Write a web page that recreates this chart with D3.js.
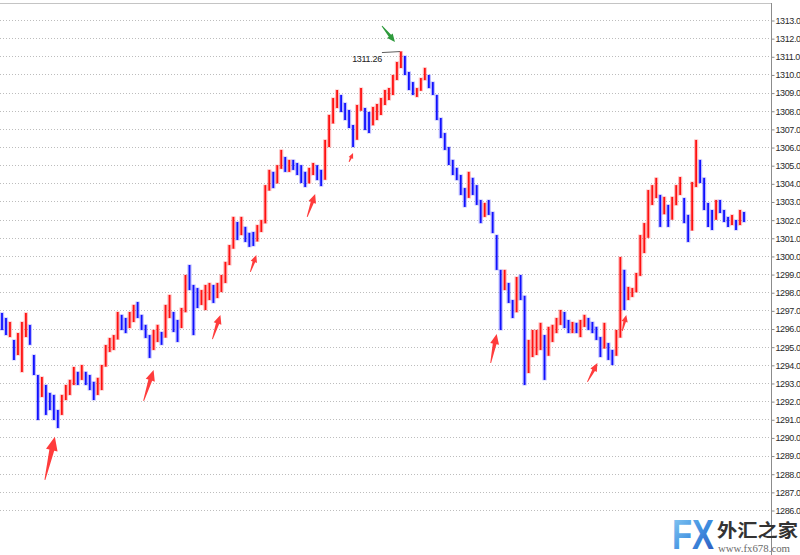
<!DOCTYPE html>
<html>
<head>
<meta charset="utf-8">
<script src="https://cdn.jsdelivr.net/npm/d3@7/dist/d3.min.js"></script>
<style>
  html, body { margin: 0; padding: 0; background: #ffffff; }
  svg { display: block; }
</style>
</head>
<body>
<svg id="chart" width="800" height="555"></svg>
<script>
// ---- data ----
const tickValues = d3.range(1286, 1314, 1);

const highs = [
 1296.86,1296.58,1296.36,1295.37,1295.75,1296.36,1296.86,1296.2,1294.54,1293.44,
 1293.33,1292.89,1292.45,1292.34,1291.51,1292.34,1292.89,1293.17,1293.88,1293.61,
 1293.99,1293.61,1293.44,1293.06,1293.28,1293.99,1295.09,1295.48,1295.64,1296.91,
 1296.75,1296.58,1296.91,1297.3,1297.46,1296.75,1296.2,1295.64,1295.92,1296.2,
 1295.81,1297.3,1297.85,1296.91,1296.47,1297.13,1298.95,1299.5,1298.4,1298.23,
 1298.12,1298.4,1298.51,1298.4,1298.51,1298.95,1299.67,1300.6,1302.15,1301.87,
 1302.15,1301.6,1301.27,1301.32,1301.7,1301.98,1303.9,1304.74,1304.63,1305.0,
 1305.84,1305.45,1305.29,1305.29,1305.12,1305.0,1304.63,1304.85,1305.12,1305.0,
 1304.74,1306.39,1307.77,1308.7,1309.14,1308.87,1308.43,1308.04,1307.21,1308.32,
 1309.25,1308.15,1307.93,1308.21,1308.37,1308.7,1309.14,1309.25,1309.97,1310.69,
 1311.26,1311.02,1310.14,1309.58,1309.25,1309.8,1310.36,1309.97,1309.58,1308.87,
 1307.6,1306.77,1306.0,1305.29,1304.85,1304.46,1303.74,1304.63,1304.3,1303.9,
 1303.08,1302.92,1303.08,1302.42,1301.15,1299.23,1299.23,1298.51,1297.57,1298.84,
 1298.95,1297.8,1295.37,1295.92,1295.92,1296.31,1295.64,1296.09,1296.2,1296.58,
 1297.02,1296.91,1296.47,1296.36,1296.31,1296.47,1296.75,1296.58,1296.36,1296.09,
 1295.53,1296.31,1295.2,1294.82,1295.92,1299.94,1299.23,1298.29,1298.23,1299.06,
 1301.15,1301.81,1303.63,1303.9,1304.3,1303.36,1303.25,1302.81,1303.25,1303.9,
 1304.35,1303.19,1302.26,1304.07,1306.39,1305.29,1304.3,1302.92,1302.53,1303.08,
 1303.08,1302.53,1302.15,1302.26,1301.98,1302.53,1302.42
];

const lows = [
 1295.92,1295.64,1295.53,1294.27,1294.54,1293.6,1295.53,1295.1,1293.44,1290.96,
 1292.23,1291.24,1291.51,1290.96,1290.52,1291.24,1292.06,1292.34,1292.89,1292.89,
 1293.17,1292.89,1292.61,1292.06,1292.34,1292.61,1293.9,1294.71,1294.82,1295.4,
 1295.92,1295.75,1296.03,1296.36,1296.58,1295.92,1295.48,1294.38,1294.82,1295.26,
 1295.1,1295.5,1296.58,1295.81,1295.26,1296.03,1296.9,1298.12,1295.64,1297.13,
 1297.3,1297.02,1297.57,1297.41,1297.68,1298.01,1298.51,1299.5,1300.4,1300.88,
 1301.15,1300.77,1300.5,1300.55,1300.8,1301.32,1301.8,1303.6,1303.74,1304.0,
 1304.8,1304.63,1304.63,1304.74,1304.46,1304.02,1303.8,1304.0,1304.46,1304.18,
 1303.85,1304.2,1306.0,1307.3,1308.15,1307.93,1307.49,1307.05,1306.0,1306.4,
 1308.0,1306.94,1306.77,1307.2,1307.49,1307.77,1308.32,1308.59,1308.87,1309.69,
 1310.36,1309.97,1309.14,1308.87,1308.76,1309.1,1309.69,1309.25,1308.87,1307.49,
 1306.5,1305.84,1305.01,1304.46,1304.18,1303.36,1302.7,1303.2,1303.36,1302.81,
 1301.81,1302.15,1302.26,1301.26,1299.23,1295.92,1298.12,1297.41,1296.58,1296.9,
 1297.57,1292.89,1293.55,1294.43,1294.54,1294.82,1293.17,1294.5,1295.26,1295.75,
 1296.2,1296.03,1295.75,1295.75,1295.75,1295.53,1296.09,1295.92,1295.75,1295.37,
 1294.43,1294.9,1294.27,1293.99,1294.5,1295.5,1297.02,1297.57,1297.74,1298.0,
 1298.9,1300.16,1301.0,1302.81,1303.19,1301.6,1302.3,1301.6,1302.0,1302.8,
 1303.36,1301.81,1300.77,1301.4,1303.8,1304.02,1302.53,1301.6,1301.43,1302.0,
 1302.37,1301.87,1301.6,1301.7,1301.43,1301.7,1301.87
];

const closes = [
 1296.2,1295.9,1296.0,1294.8,1295.3,1296.0,1296.5,1295.3,1293.8,1292.8,
 1292.8,1292.3,1292.0,1291.4,1290.9,1292.0,1292.6,1293.0,1293.4,1293.2,
 1293.5,1293.3,1292.9,1292.5,1293.0,1293.9,1294.8,1295.2,1295.4,1296.6,
 1296.3,1296.0,1296.6,1297.0,1296.8,1296.1,1295.6,1294.8,1295.5,1295.8,
 1295.5,1297.0,1297.2,1296.2,1296.0,1296.9,1298.8,1298.5,1297.8,1297.6,
 1297.6,1297.9,1298.0,1297.7,1298.3,1298.6,1299.5,1300.4,1301.6,1301.3,
 1301.6,1301.0,1300.9,1300.8,1301.5,1301.8,1303.6,1304.3,1304.0,1304.8,
 1305.3,1304.9,1305.0,1304.9,1304.7,1304.3,1304.0,1304.6,1304.8,1304.5,
 1304.2,1306.0,1307.3,1308.4,1308.6,1308.2,1307.8,1307.3,1306.4,1308.0,
 1308.5,1307.5,1307.2,1307.9,1308.0,1308.5,1308.8,1309.0,1309.7,1310.5,
 1311.0,1310.2,1309.4,1309.0,1309.1,1309.7,1309.9,1309.5,1309.0,1307.7,
 1306.8,1306.1,1305.3,1304.8,1304.4,1303.7,1303.2,1304.2,1303.7,1303.1,
 1302.3,1302.6,1302.5,1301.6,1299.6,1298.1,1298.6,1297.7,1296.9,1298.5,
 1297.8,1294.0,1294.5,1295.0,1295.4,1295.5,1294.5,1295.6,1295.9,1296.2,
 1296.6,1296.3,1296.0,1296.1,1295.9,1296.2,1296.5,1296.3,1296.0,1295.6,
 1294.9,1295.6,1294.6,1294.5,1295.7,1299.2,1297.8,1297.9,1298.0,1298.9,
 1300.8,1301.0,1302.9,1303.5,1303.5,1302.3,1303.0,1302.0,1302.8,1303.6,
 1303.8,1302.2,1301.4,1303.8,1305.5,1304.3,1302.9,1302.1,1302.0,1302.8,
 1302.5,1302.1,1301.9,1302.0,1301.7,1302.3,1302.0
];

const firstOpen = 1296.5;
const peakIndex = 100;
const peakLabel = "1311.26";

// arrows in data space: [tailIndex, tailPrice, tipIndex, tipPrice]
const upArrows = [
 [10.75, 1287.66, 13.25, 1290.03],
 [35.5, 1292.01, 38.0, 1293.72],
 [52.75, 1295.42, 54.75, 1296.75],
 [62.25, 1299.12, 63.75, 1300.05],
 [76.5, 1302.15, 78.5, 1303.41],
 [87.0, 1305.18, 88.0, 1305.67],
 [122.5, 1294.1, 124.0, 1295.7],
 [146.75, 1293.06, 149.25, 1294.1],
 [155.5, 1295.87, 156.5, 1296.75]
];
const downArrow = [95.25, 1312.67, 98.5, 1311.79];

const watermarkBig = "FX";
const watermarkCn = "外汇之家";
const watermarkUrl = "www.fx678.com";

// ---- layout ----
const W = 800, H = 555;
const axisX = 771.5;
const svg = d3.select("#chart");

const n = closes.length;
const bars = closes.map((c, i) => ({
  i, h: highs[i], l: lows[i], c, o: i === 0 ? firstOpen : closes[i - 1]
}));

const x = d3.scaleLinear().domain([0, n - 1]).range([2, 744]);
const y = d3.scaleLinear().domain([1286, 1313]).range([510, 20]);

// gridlines
svg.append("g").selectAll("line").data(tickValues).join("line")
  .attr("x1", 0).attr("x2", axisX)
  .attr("y1", d => Math.round(y(d)) + 0.5).attr("y2", d => Math.round(y(d)) + 0.5)
  .attr("stroke", "#bdbdbd").attr("stroke-width", 1)
  .attr("stroke-dasharray", "1,2");

// frame
svg.append("line").attr("x1", 0).attr("x2", axisX).attr("y1", 3.5).attr("y2", 3.5)
  .attr("stroke", "#c4c4c4");
svg.append("line").attr("x1", axisX).attr("x2", axisX).attr("y1", 3).attr("y2", H)
  .attr("stroke", "#8c8c8c");

// axis
const axis = d3.axisRight(y).tickValues(tickValues)
  .tickFormat(d3.format(".1f")).tickSize(3).tickPadding(1);
const ag = svg.append("g").attr("transform", `translate(${axisX},0.5)`).call(axis);
ag.select(".domain").remove();
ag.selectAll(".tick line").attr("stroke", "#8c8c8c");
ag.selectAll(".tick text")
  .attr("fill", "#2a2a2a")
  .style("font-family", "'Liberation Sans', Arial, sans-serif")
  .style("font-size", "9px")
  .style("letter-spacing", "-0.4px");

// bars
const colorOf = d => d.c >= d.o ? "#ff1010" : "#1010ff";
const gBars = svg.append("g");
gBars.selectAll("line.halo").data(bars).join("line")
  .attr("class", "halo")
  .attr("x1", d => x(d.i)).attr("x2", d => x(d.i))
  .attr("y1", d => y(d.h) - 0.5).attr("y2", d => y(d.l) + 0.5)
  .attr("stroke", colorOf).attr("stroke-opacity", 0.28).attr("stroke-width", 4.2);
gBars.selectAll("line.core").data(bars).join("line")
  .attr("class", "core")
  .attr("x1", d => x(d.i)).attr("x2", d => x(d.i))
  .attr("y1", d => y(d.h)).attr("y2", d => y(d.l))
  .attr("stroke", colorOf).attr("stroke-width", 1.8);

// peak annotation
const px = x(peakIndex), py = y(highs[peakIndex]);
svg.append("line").attr("x1", px - 19).attr("y1", py + 1).attr("x2", px - 1).attr("y2", py)
  .attr("stroke", "#333").attr("stroke-width", 0.8);
svg.append("text").attr("x", px - 19).attr("y", py + 10.5).attr("text-anchor", "end")
  .attr("fill", "#222")
  .style("font-family", "'Liberation Sans', Arial, sans-serif")
  .style("font-size", "9px").style("letter-spacing", "-0.3px")
  .text(peakLabel);

// arrows
function arrowPath(x1, y1, x2, y2) {
  const dx = x2 - x1, dy = y2 - y1, L = Math.hypot(dx, dy);
  const ux = dx / L, uy = dy / L, nx = -uy, ny = ux;
  const headW = 3 + 0.2 * L, headL = 3 + 0.24 * L;
  const shaftW = headW * 0.42, tailW = 0.9;
  const bx = x2 - ux * headL, by = y2 - uy * headL;
  const pts = [
    [x1 + nx * tailW / 2, y1 + ny * tailW / 2],
    [bx + nx * shaftW / 2, by + ny * shaftW / 2],
    [bx + nx * headW / 2, by + ny * headW / 2],
    [x2, y2],
    [bx - nx * headW / 2, by - ny * headW / 2],
    [bx - nx * shaftW / 2, by - ny * shaftW / 2],
    [x1 - nx * tailW / 2, y1 - ny * tailW / 2]
  ];
  return "M" + pts.map(p => p[0].toFixed(2) + "," + p[1].toFixed(2)).join("L") + "Z";
}
svg.append("g").selectAll("path").data(upArrows).join("path")
  .attr("d", a => arrowPath(x(a[0]), y(a[1]), x(a[2]), y(a[3])))
  .attr("fill", "#ff2b2b").attr("fill-opacity", 0.92);
svg.append("path")
  .attr("d", arrowPath(x(downArrow[0]), y(downArrow[1]), x(downArrow[2]), y(downArrow[3])))
  .attr("fill", "#2e9a3c");

// watermark
const defs = svg.append("defs");
const grad = defs.append("linearGradient").attr("id", "fxg")
  .attr("x1", "0").attr("y1", "0").attr("x2", "1").attr("y2", "1");
grad.append("stop").attr("offset", "0%").attr("stop-color", "#8fd0f5");
grad.append("stop").attr("offset", "55%").attr("stop-color", "#3f8fe0");
grad.append("stop").attr("offset", "100%").attr("stop-color", "#2a4fb8");
svg.append("text").attr("x", 672).attr("y", 549)
  .attr("textLength", 42).attr("lengthAdjust", "spacingAndGlyphs")
  .attr("fill", "url(#fxg)")
  .style("font-family", "'Liberation Sans', Arial, sans-serif")
  .style("font-weight", "bold").style("font-size", "42px")
  .text(watermarkBig);
svg.append("text").attr("x", 717).attr("y", 537)
  .attr("textLength", 81).attr("lengthAdjust", "spacingAndGlyphs")
  .attr("fill", "#333333")
  .style("font-family", "'Noto Sans CJK SC', sans-serif")
  .style("font-weight", "bold").style("font-size", "18px")
  .text(watermarkCn);
svg.append("text").attr("x", 718).attr("y", 552)
  .attr("textLength", 72).attr("lengthAdjust", "spacingAndGlyphs")
  .attr("fill", "#6a6a6a")
  .style("font-family", "'Liberation Serif', serif")
  .style("font-size", "10.5px")
  .text(watermarkUrl);
</script>
</body>
</html>
